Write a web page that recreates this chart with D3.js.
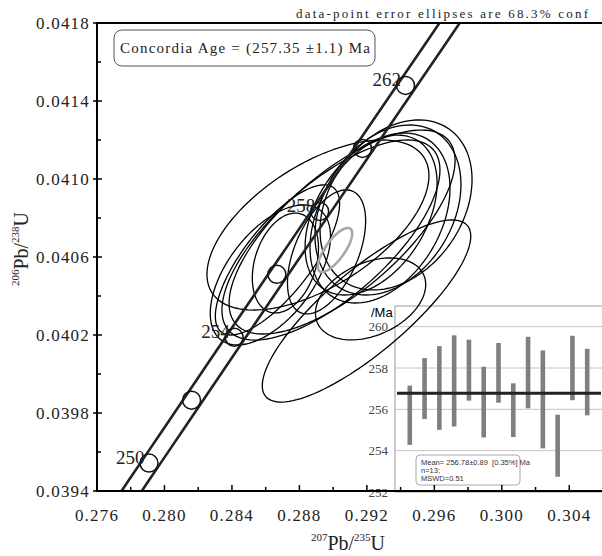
<!DOCTYPE html>
<html>

<head>
    <meta charset="utf-8" />
    <title>Concordia diagram</title>
    <style>
        body {
            margin: 0;
            background: #fff;
        }

        svg text {
            font-family: "Liberation Serif", serif;
        }
    </style>
</head>

<body>
    <svg></svg>
    <script src="https://d3js.org/d3.v7.min.js"></script>
    <script>

        // Axis ticks
        let xTicks = [0.276, 0.280, 0.284, 0.288, 0.292, 0.296, 0.300, 0.304];
        let xMinor = [0.278, 0.282, 0.286, 0.290, 0.294, 0.298, 0.302];
        let yTicks = [0.0394, 0.0398, 0.0402, 0.0406, 0.0410, 0.0414, 0.0418];
        let yMinor = [0.0396, 0.0400, 0.0404, 0.0408, 0.0412, 0.0416];

        // Data-point ellipses (centre, half extent at 68.3% conf, rho)
        let ellX = [0.28910, 0.29198, 0.29222, 0.28628, 0.28670, 0.28961, 0.28717, 0.28987, 0.29225, 0.29278, 0.29325, 0.29373, 0.29053];
        let ellY = [0.040764, 0.040323, 0.040385, 0.040508, 0.040585, 0.040626, 0.040569, 0.040687, 0.040815, 0.040800, 0.040841, 0.040867, 0.040728];
        let ellEx = [0.006581, 0.006180, 0.003268, 0.003565, 0.003684, 0.002317, 0.001961, 0.006463, 0.003913, 0.004150, 0.004328, 0.004506, 0.006700];
        let ellEy = [0.000436, 0.000467, 0.000210, 0.000359, 0.000385, 0.000318, 0.000256, 0.000513, 0.000410, 0.000436, 0.000436, 0.000436, 0.000523];
        let ellRho = [0.58, 0.82, 0.35, 0.55, 0.75, 0.5, 0.3, 0.7, 0.4, 0.35, 0.3, 0.3, 0.7];

        // Concordia age ellipse
        let ageEll = { x: 0.29011, y: 0.040636, ex: 0.00102, ey: 0.000113, rho: 0.75 };

        // Concordia
        let lambda238 = 1.55125e-10, lambda235 = 9.8485e-10;
        let concAges = [250, 252, 254, 256, 258, 260, 262];
        let labelAges = [250, 254, 258, 262];
        let bandHalf = 0.0006;

        // Inset: 206Pb/238U ages
        let barHigh = [257.15, 258.48, 259.06, 259.58, 259.37, 258.06, 259.21, 257.26, 259.51, 258.85, 255.74, 259.56, 258.93];
        let barLow = [254.28, 255.53, 255.01, 255.17, 256.42, 254.64, 256.32, 254.66, 256.05, 254.11, 252.74, 256.44, 255.71];
        let meanAge = 256.78;
        let insetTicks = [252, 254, 256, 258, 260];
        let statLines = ["Mean= 256.78\u00b10.89  [0.35%] Ma", "n=13;", "MSWD=0.51"];

        let width = 602, height = 556;
        let svg = d3.select("svg").attr("width", width).attr("height", height);

        let x = d3.scaleLinear().domain([0.276, 0.306]).range([97, 603]);
        let y = d3.scaleLinear().domain([0.0394, 0.0418]).range([491, 23]);

        svg.append("defs").append("clipPath").attr("id", "plotclip")
            .append("rect").attr("x", 97).attr("y", 23).attr("width", 510).attr("height", 468);

        // ---- Inset (weighted mean plot) ----
        let xi = d3.scaleLinear().domain([0, 14]).range([395, 602]);
        let yi = d3.scaleLinear().domain([252, 261]).range([492, 306]);
        let inset = svg.append("g");

        inset.append("rect")
            .attr("x", 395).attr("y", 306).attr("width", 230).attr("height", 186)
            .attr("fill", "#fff").attr("stroke", "#999").attr("stroke-width", 1);

        inset.selectAll(".grid").data(insetTicks.filter(d => d > 252)).enter()
            .append("line")
            .attr("x1", 395).attr("x2", 610)
            .attr("y1", d => yi(d)).attr("y2", d => yi(d))
            .attr("stroke", "#c4c4c4").attr("stroke-width", 1);

        inset.selectAll(".ilab").data(insetTicks).enter()
            .append("text")
            .attr("x", 388).attr("y", d => yi(d) + 4.5)
            .attr("text-anchor", "end")
            .style("font-size", "13px").style("fill", "#444")
            .text(d => d);

        inset.append("text").attr("x", 371).attr("y", 317)
            .style("font-family", "'Liberation Sans', sans-serif").style("font-size", "13px")
            .text("/Ma");

        inset.selectAll(".bar").data(barHigh).enter()
            .append("rect")
            .attr("x", (d, i) => xi(i + 1) - 2.3)
            .attr("width", 4.6)
            .attr("y", d => yi(d))
            .attr("height", (d, i) => yi(barLow[i]) - yi(d))
            .attr("fill", "#7f7f7f");

        inset.append("line")
            .attr("x1", 397).attr("x2", 601)
            .attr("y1", yi(meanAge)).attr("y2", yi(meanAge))
            .attr("stroke", "#222").attr("stroke-width", 3);

        inset.append("rect")
            .attr("x", 416).attr("y", 455).attr("width", 104).attr("height", 30).attr("rx", 4)
            .attr("fill", "#fff").attr("stroke", "#aaa");

        inset.selectAll(".stat").data(statLines).enter()
            .append("text")
            .attr("x", 421).attr("y", (d, i) => 465 + i * 8)
            .style("font-family", "'Liberation Sans', sans-serif").style("font-size", "7.5px")
            .style("white-space", "pre").style("fill", "#333")
            .text(d => d);

        // ---- Data-point ellipses ----
        let plot = svg.append("g").attr("clip-path", "url(#plotclip)");
        let line = d3.line().curve(d3.curveLinearClosed);

        function ellipsePoints(cx, cy, ex, ey, rho) {
            let pts = [];
            for (let k = 0; k < 120; k++) {
                let t = k / 120 * 2 * Math.PI;
                let dx = ex * Math.cos(t);
                let dy = ey * (rho * Math.cos(t) + Math.sqrt(1 - rho * rho) * Math.sin(t));
                pts.push([x(cx + dx), y(cy + dy)]);
            }
            return pts;
        }

        plot.selectAll(".ell").data(ellX).enter()
            .append("path")
            .attr("d", (d, i) => line(ellipsePoints(d, ellY[i], ellEx[i], ellEy[i], ellRho[i])))
            .attr("fill", "none").attr("stroke", "#000").attr("stroke-width", 1.3);

        plot.append("path")
            .attr("d", line(ellipsePoints(ageEll.x, ageEll.y, ageEll.ex, ageEll.ey, ageEll.rho)))
            .attr("fill", "none").attr("stroke", "#a8a8a8").attr("stroke-width", 2.6);

        // ---- Concordia band ----
        let curveAges = d3.range(240, 272, 0.5);
        function conc(t) {
            return [Math.exp(lambda235 * t * 1e6) - 1, Math.exp(lambda238 * t * 1e6) - 1];
        }
        [-bandHalf, bandHalf].forEach(off => {
            plot.append("path")
                .attr("d", d3.line()(curveAges.map(t => { let c = conc(t); return [x(c[0] + off), y(c[1])]; })))
                .attr("fill", "none").attr("stroke", "#222").attr("stroke-width", 2.6);
        });

        plot.selectAll(".age").data(concAges).enter()
            .append("circle")
            .attr("cx", d => x(conc(d)[0]) - 1.5).attr("cy", d => y(conc(d)[1]))
            .attr("r", 9)
            .attr("fill", "none").attr("stroke", "#111").attr("stroke-width", 1.5);

        svg.selectAll(".agelab").data(labelAges).enter()
            .append("text")
            .attr("x", d => x(conc(d)[0]) - 6).attr("y", d => y(conc(d)[1]) + 1)
            .attr("text-anchor", "end")
            .style("font-size", "19px").style("fill", "#222")
            .text(d => d);

        // ---- Axes ----
        let axes = svg.append("g").attr("stroke", "#000");
        axes.append("line").attr("x1", 97).attr("x2", 97).attr("y1", 22).attr("y2", 492).attr("stroke-width", 2);
        axes.append("line").attr("x1", 96).attr("x2", 602).attr("y1", 491).attr("y2", 491).attr("stroke-width", 2);
        axes.append("line").attr("x1", 96).attr("x2", 602).attr("y1", 23).attr("y2", 23).attr("stroke-width", 2);

        axes.selectAll(".xt").data(xTicks).enter().append("line")
            .attr("x1", d => x(d)).attr("x2", d => x(d)).attr("y1", 491).attr("y2", 485).attr("stroke-width", 1.5);
        axes.selectAll(".xm").data(xMinor).enter().append("line")
            .attr("x1", d => x(d)).attr("x2", d => x(d)).attr("y1", 491).attr("y2", 487).attr("stroke-width", 1.5);
        axes.selectAll(".yt").data(yTicks).enter().append("line")
            .attr("x1", 93).attr("x2", 102).attr("y1", d => y(d)).attr("y2", d => y(d)).attr("stroke-width", 1.5);
        axes.selectAll(".ym").data(yMinor).enter().append("line")
            .attr("x1", 97).attr("x2", 101).attr("y1", d => y(d)).attr("y2", d => y(d)).attr("stroke-width", 1.5);

        svg.selectAll(".xl").data(xTicks).enter().append("text")
            .attr("x", d => x(d)).attr("y", 521)
            .attr("text-anchor", "middle")
            .style("font-size", "17px").style("letter-spacing", "1.2px").style("fill", "#222")
            .text(d => d.toFixed(3));

        svg.selectAll(".yl").data(yTicks).enter().append("text")
            .attr("x", 90).attr("y", d => y(d) + 6)
            .attr("text-anchor", "end")
            .style("font-size", "17px").style("letter-spacing", "1.2px").style("fill", "#222")
            .text(d => d.toFixed(4));

        // Axis titles
        let xt = svg.append("text").attr("x", 348).attr("y", 550).attr("text-anchor", "middle").style("fill", "#222");
        xt.append("tspan").attr("dy", -9).style("font-size", "11px").text("207");
        xt.append("tspan").attr("dy", 9).style("font-size", "20px").text("Pb/");
        xt.append("tspan").attr("dy", -9).style("font-size", "11px").text("235");
        xt.append("tspan").attr("dy", 9).style("font-size", "20px").text("U");

        let yt = svg.append("text").attr("transform", "translate(28,249) rotate(-90)").attr("text-anchor", "middle").style("fill", "#222");
        yt.append("tspan").attr("dy", -9).style("font-size", "11px").text("206");
        yt.append("tspan").attr("dy", 9).style("font-size", "20px").text("Pb/");
        yt.append("tspan").attr("dy", -9).style("font-size", "11px").text("238");
        yt.append("tspan").attr("dy", 9).style("font-size", "20px").text("U");

        // Header note and concordia age box
        svg.append("text").attr("x", 296).attr("y", 18)
            .attr("textLength", 292).attr("lengthAdjust", "spacing")
            .style("font-size", "13px").style("fill", "#222")
            .text("data-point error ellipses are 68.3% conf");

        svg.append("rect").attr("x", 114).attr("y", 30).attr("width", 261).attr("height", 36).attr("rx", 8)
            .attr("fill", "#fff").attr("stroke", "#555").attr("stroke-width", 1);
        svg.append("text").attr("x", 120).attr("y", 53)
            .attr("textLength", 250).attr("lengthAdjust", "spacing")
            .style("font-size", "15px").style("fill", "#222")
            .text("Concordia Age = (257.35 \u00b11.1) Ma");

    </script>
</body>

</html>
